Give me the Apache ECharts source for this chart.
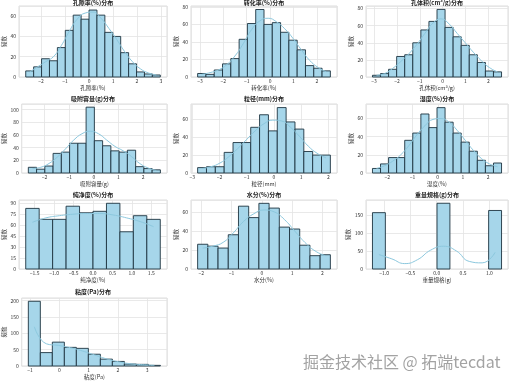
<!DOCTYPE html>
<html>
<head>
<meta charset="utf-8">
<script src="https://cdn.jsdelivr.net/npm/echarts@6/dist/echarts.min.js"></script>
<style>
html, body { margin: 0; padding: 0; background: #fff; }
#main { width: 514px; height: 381px; }
</style>
</head>
<body>
<div id="main"></div>
<script>
// 标准化后各指标的直方图（从图中读取的频数）
const titles = ['孔隙率(%)分布', '转化率(%)分布', '孔体积(cm³/g)分布', '吸附容量(g)分布', '粒径(mm)分布',
    '湿度(%)分布', '纯净度(%)分布', '水分(%)分布', '重量规格(g)分布', '粘度(Pa)分布']
const xNames = ['孔隙率(%)', '转化率(%)', '孔体积(cm³/g)', '吸附容量(g)', '粒径(mm)',
    '湿度(%)', '纯净度(%)', '水分(%)', '重量规格(g)', '粘度(Pa)']
const yName = '频数'

const binStarts = [-2.64, -3.1, -3.07, -2.66, -2.8, -2.59, -1.73, -2.12, -1.22, -1.06]
const binWidths = [0.33, 0.355, 0.353, 0.335, 0.325, 0.32, 0.346, 0.337, 0.245, 0.41]

const counts1 = [6, 10, 18, 16, 29, 46, 61, 57, 66, 61, 44, 40, 24, 13, 5, 3, 2]
const counts2 = [4, 3, 8, 15, 21, 43, 61, 77, 60, 62, 51, 42, 31, 13, 10, 7]
const counts3 = [2, 4, 9, 24, 26, 40, 55, 65, 79, 58, 47, 37, 26, 17, 7, 6]
const counts4 = [9, 6, 11, 31, 33, 47, 47, 104, 51, 43, 35, 33, 36, 10, 7, 5]
const counts5 = [6, 7, 7, 23, 34, 34, 51, 65, 47, 73, 57, 49, 24, 20, 20]
const counts6 = [5, 10, 17, 17, 36, 44, 65, 50, 72, 56, 44, 34, 24, 14, 8, 11]
const counts7 = [83, 68, 68, 86, 77, 79, 90, 51, 73, 68]
const counts8 = [26, 24, 22, 36, 66, 54, 69, 64, 44, 42, 25, 14, 15]
const counts9 = [156, 0, 0, 0, 0, 182, 0, 0, 0, 162]
const counts10 = [198, 41, 73, 57, 54, 36, 21, 14, 6, 5, 2]

// 核密度曲线（按计数缩放，取各柱中心处的读数）
const kde1 = [5, 10, 15, 20, 31, 45, 57, 63, 64, 58, 48, 37, 25, 15, 8, 4, 2]
const kde2 = [3, 5, 8, 14, 24, 38, 54, 64, 67, 63, 55, 44, 31, 19, 11, 6]
const kde3 = [2, 4, 10, 18, 27, 38, 51, 63, 68, 62, 51, 40, 29, 19, 11, 6]
const kde4 = [7, 9, 15, 25, 38, 52, 62, 66, 62, 52, 42, 35, 26, 15, 8, 4]
const kde5 = [5, 7, 11, 18, 27, 37, 47, 55, 59, 58, 51, 41, 30, 22, 17]
const kde6 = [5, 8, 13, 20, 30, 42, 52, 59, 60, 56, 47, 36, 25, 16, 10, 7]
const kde7 = [64, 70, 73, 75, 76, 76, 74, 70, 65, 58]
const kde8 = [22, 24, 28, 38, 50, 58, 62, 60, 52, 40, 28, 19, 14]
const kde9 = [40, 28, 15, 26, 52, 63, 50, 21, 17, 46]
const kde10 = [120, 68, 63, 56, 46, 34, 22, 13, 7, 4, 2]

const counts = [counts1, counts2, counts3, counts4, counts5, counts6, counts7, counts8, counts9, counts10]
const kdes = [kde1, kde2, kde3, kde4, kde5, kde6, kde7, kde8, kde9, kde10]

const xSteps = [1, 1, 1, 1, 1, 1, 0.5, 1, 0.5, 1]
const ySteps = [20, 20, 20, 20, 20, 20, 15, 20, 50, 50]
const yMaxes = [70, 81, 83, 109, 77, 76, 94.5, 72.5, 191, 208]

// 布局
const colLeft = [19, 191, 366]
const colWidth = [148, 146, 142]
const rowTop = [6, 104, 200, 298]
const rowHeight = [71, 69, 69, 68]
const titleY = [3, 99, 195, 292]

const FONT = '"Noto Sans CJK SC", "DejaVu Sans", sans-serif'
const BAR_FILL = '#a6d6ea'
const BAR_EDGE = '#1d3340'
const KDE_COLOR = '#8cc8de'

function isMultiple (v, step) {
    return Math.abs(v / step - Math.round(v / step)) < 1e-6
}

function fmtTick (v, step) {
    if (!isMultiple(v, step)) return ''
    const n = Math.round(v / step) * step
    const s = step < 1 ? n.toFixed(1) : String(Math.round(n))
    return s.replace('-', '\u2212')
}

const chart = echarts.init(document.getElementById('main'))

const grids = []
const xAxes = []
const yAxes = []
const series = []
const graphics = []

counts.forEach((cnt, i) => {
    const col = i % 3
    const row = Math.floor(i / 3)
    const start = binStarts[i]
    const w = binWidths[i]
    const end = start + cnt.length * w
    const pad = (end - start) * 0.05

    grids.push({
        left: colLeft[col], top: rowTop[row], width: colWidth[col], height: rowHeight[row],
        show: true, borderColor: '#d4d4d4', borderWidth: 0.8, backgroundColor: '#fff'
    })

    xAxes.push({
        type: 'value', gridIndex: i,
        min: start - pad, max: end + pad,
        minInterval: xSteps[i], maxInterval: xSteps[i],
        name: xNames[i], nameLocation: 'middle', nameGap: 8,
        nameTextStyle: { fontSize: 5.5, color: '#333', fontFamily: FONT },
        axisLine: { show: false }, axisTick: { show: false },
        axisLabel: { fontSize: 5, color: '#333', margin: 2, fontFamily: FONT, formatter: v => fmtTick(v, xSteps[i]) },
        splitLine: { show: true, lineStyle: { color: '#e3e3e3', width: 0.8 } }
    })

    yAxes.push({
        type: 'value', gridIndex: i,
        min: 0, max: yMaxes[i],
        minInterval: ySteps[i], maxInterval: ySteps[i],
        name: yName, nameLocation: 'middle', nameGap: 10, nameRotate: 90,
        nameTextStyle: { fontSize: 5.5, color: '#333', fontFamily: FONT },
        axisLine: { show: false }, axisTick: { show: false },
        axisLabel: { fontSize: 5, color: '#333', margin: 3, fontFamily: FONT, formatter: v => fmtTick(v, ySteps[i]) },
        splitLine: { show: true, lineStyle: { color: '#e3e3e3', width: 0.8 } }
    })

    const barData = cnt.map((c, j) => [start + j * w, start + (j + 1) * w, c])
    series.push({
        type: 'custom', xAxisIndex: i, yAxisIndex: i, z: 2,
        data: barData,
        encode: { x: [0, 1], y: 2 },
        renderItem: (params, api) => {
            const c = api.value(2)
            if (!c) return null
            const p0 = api.coord([api.value(0), c])
            const p1 = api.coord([api.value(1), 0])
            return {
                type: 'rect',
                shape: { x: p0[0], y: p0[1], width: p1[0] - p0[0], height: p1[1] - p0[1] },
                style: { fill: BAR_FILL, stroke: BAR_EDGE, lineWidth: 0.9 }
            }
        }
    })

    series.push({
        type: 'line', xAxisIndex: i, yAxisIndex: i, z: 3,
        data: kdes[i].map((k, j) => [start + (j + 0.5) * w, k]),
        smooth: 0.5, showSymbol: false, silent: true,
        lineStyle: { color: KDE_COLOR, width: 1 }
    })

    graphics.push({
        type: 'text',
        x: colLeft[col] + colWidth[col] / 2,
        y: titleY[row],
        style: {
            text: titles[i], textAlign: 'center', textVerticalAlign: 'middle',
            align: 'center', verticalAlign: 'middle',
            fill: '#222', font: 'bold 6px ' + FONT
        }
    })
})

graphics.push({
    type: 'text', x: 303, y: 362,
    style: {
        text: '掘金技术社区 @ 拓端tecdat', textVerticalAlign: 'middle', verticalAlign: 'middle',
        fill: '#a3a3a3', stroke: '#fff', lineWidth: 0.5, font: '16px ' + FONT
    }
})

const option = {
    backgroundColor: '#fff',
    animation: false,
    grid: grids,
    xAxis: xAxes,
    yAxis: yAxes,
    series: series,
    graphic: graphics
}
chart.setOption(option)
</script>
</body>
</html>
